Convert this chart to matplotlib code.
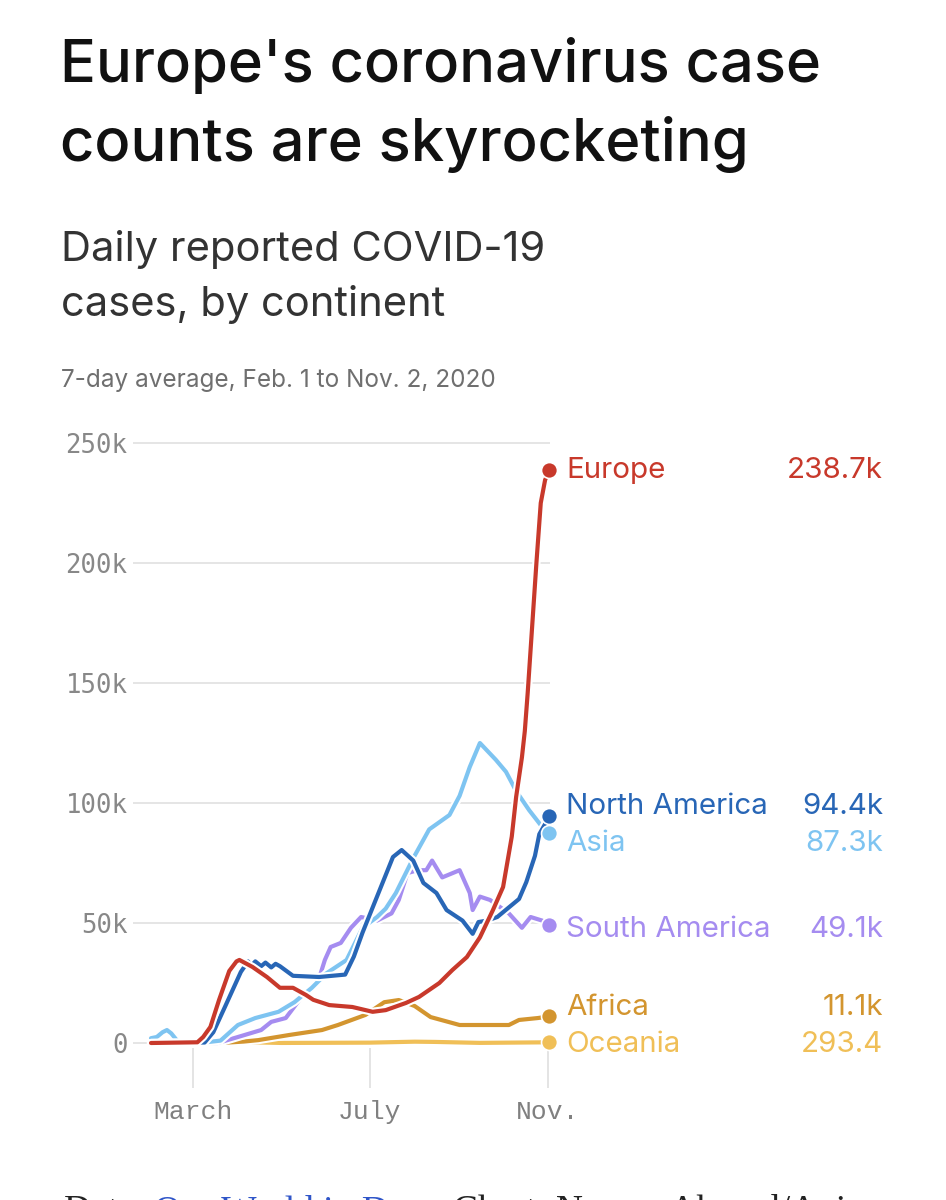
import pandas as pd
import matplotlib
matplotlib.use("Agg")
import matplotlib.pyplot as plt
import matplotlib.patheffects as pe
import matplotlib.transforms as mtransforms

# daily reported cases, 7-day average, in thousands
europe_dates = ["2020-02-01", "2020-03-04", "2020-03-08", "2020-03-13", "2020-03-19", "2020-03-26",
                "2020-03-31", "2020-04-02", "2020-04-11", "2020-04-21", "2020-04-30", "2020-05-09",
                "2020-05-18", "2020-05-23", "2020-06-03", "2020-06-19", "2020-07-03", "2020-07-12",
                "2020-07-26", "2020-08-04", "2020-08-18", "2020-08-27", "2020-09-06", "2020-09-15",
                "2020-09-24", "2020-10-01", "2020-10-07", "2020-10-10", "2020-10-14", "2020-10-16",
                "2020-10-18", "2020-10-24", "2020-10-27", "2020-10-30", "2020-11-02"]
europe_k = [0, 0.3, 2.5, 6.7, 18, 30, 34, 34.6, 31.7, 27.5, 23, 23, 20, 18, 15.8, 15, 13, 13.7,
            16.7, 19.2, 25, 30.4, 35.8, 44, 55.4, 65, 86, 102.5, 119, 130, 146, 200, 225, 234.6, 238.7]

na_dates = ["2020-02-01", "2020-03-09", "2020-03-15", "2020-03-23", "2020-04-03", "2020-04-08",
            "2020-04-10", "2020-04-13", "2020-04-17", "2020-04-20", "2020-04-24", "2020-04-27",
            "2020-04-30", "2020-05-09", "2020-05-27", "2020-06-14", "2020-06-20", "2020-06-26",
            "2020-07-08", "2020-07-17", "2020-07-23", "2020-07-31", "2020-08-07", "2020-08-16",
            "2020-08-23", "2020-09-03", "2020-09-10", "2020-09-14", "2020-09-20", "2020-09-27",
            "2020-10-08", "2020-10-12", "2020-10-17", "2020-10-23", "2020-10-26", "2020-11-02"]
na_k = [0, 0.2, 4.5, 15, 29.6, 34, 32, 34, 32, 33.5, 31.5, 33, 32, 28, 27.5, 28.5, 36, 46,
        64, 77.5, 80.4, 76, 66.7, 62.5, 55.4, 51, 45.5, 50.4, 51, 52.5, 58, 60, 67, 78, 87, 94.4]

asia_dates = ["2020-02-01", "2020-02-05", "2020-02-09", "2020-02-12", "2020-02-15", "2020-02-19",
              "2020-02-22", "2020-03-10", "2020-03-20", "2020-04-01", "2020-04-13", "2020-04-29",
              "2020-05-10", "2020-05-22", "2020-06-01", "2020-06-15", "2020-06-26", "2020-07-06",
              "2020-07-12", "2020-07-19", "2020-07-31", "2020-08-11", "2020-08-25", "2020-09-01",
              "2020-09-08", "2020-09-15", "2020-09-26", "2020-10-03", "2020-10-10", "2020-10-19",
              "2020-10-28", "2020-11-02"]
asia_k = [2.0, 2.5, 4.5, 5.4, 4.0, 1.0, 0.3, 0.3, 1.0, 7.5, 10.4, 13, 17, 23, 29, 34.6, 48, 52.5,
          56, 62.5, 77, 89, 95, 103, 115, 125, 118, 113, 105, 97, 90, 87.3]

sa_dates = ["2020-02-01", "2020-03-18", "2020-04-01", "2020-04-17", "2020-04-24", "2020-05-04",
            "2020-05-17", "2020-05-26", "2020-05-31", "2020-06-04", "2020-06-11", "2020-06-18",
            "2020-06-25", "2020-07-06", "2020-07-16", "2020-07-21", "2020-07-27", "2020-08-03",
            "2020-08-09", "2020-08-13", "2020-08-20", "2020-09-01", "2020-09-08", "2020-09-10",
            "2020-09-15", "2020-09-22", "2020-10-05", "2020-10-14", "2020-10-20", "2020-10-28",
            "2020-11-02"]
sa_k = [0, 0, 2.5, 5.4, 8.8, 10.4, 20.8, 25, 34.6, 40, 41.7, 48, 52.5, 51, 54, 59.6, 70.8, 72,
        72, 76, 69, 72, 62.5, 55.4, 61, 59.6, 54, 48, 52.5, 51, 49.1]

africa_dates = ["2020-02-01", "2020-03-20", "2020-04-05", "2020-04-15", "2020-05-06", "2020-05-29",
                "2020-06-09", "2020-06-28", "2020-07-11", "2020-07-21", "2020-08-01", "2020-08-12",
                "2020-09-01", "2020-10-05", "2020-10-12", "2020-10-25", "2020-11-02"]
africa_k = [0, 0, 0.6, 1.2, 3.3, 5.4, 7.5, 11.7, 17, 17.9, 15.4, 10.8, 7.5, 7.5, 9.6, 10.4, 11.1]

oceania_dates = ["2020-02-01", "2020-03-15", "2020-03-28", "2020-04-10", "2020-05-01",
                 "2020-07-01", "2020-08-01", "2020-08-15", "2020-09-15", "2020-11-02"]
oceania_k = [0, 0.1, 0.45, 0.3, 0.02, 0.15, 0.55, 0.45, 0.05, 0.2934]

names = ["Oceania", "Africa", "South America", "Asia", "North America", "Europe"]
last_labels = ["293.4", "11.1k", "49.1k", "87.3k", "94.4k", "238.7k"]

y_ticks = [0, 50, 100, 150, 200, 250]
y_tick_labels = ["0", "50k", "100k", "150k", "200k", "250k"]
x_ticks = ["2020-03-01", "2020-07-01", "2020-11-01"]
x_tick_labels = ["March", "July", "Nov."]

colors = {
    "Europe": "#c8392b",
    "North America": "#2866b6",
    "Asia": "#7ec4f1",
    "South America": "#a58cf0",
    "Africa": "#d3952f",
    "Oceania": "#f0bf57",
}
# baseline of the right-hand labels, in thousands on the y scale (layout only)
label_y = {
    "Europe": 235.4,
    "North America": 95.4,
    "Asia": 80.0,
    "South America": 44.2,
    "Africa": 11.7,
    "Oceania": -3.75,
}

W, H = 946, 1200
SANS = "Inter"


def fx(px):
    return px / W


def fy(py):
    return 1 - py / H


def series():
    return {
        "Oceania": (oceania_dates, oceania_k),
        "Africa": (africa_dates, africa_k),
        "South America": (sa_dates, sa_k),
        "Asia": (asia_dates, asia_k),
        "North America": (na_dates, na_k),
        "Europe": (europe_dates, europe_k),
    }


def main():
    fig = plt.figure(figsize=(W / 100, H / 100), dpi=100)
    fig.patch.set_facecolor("white")

    # headline and subtitles
    for txt, base in [("Europe's coronavirus case", 82), ("counts are skyrocketing", 161)]:
        fig.text(fx(60), fy(base), txt, fontsize=43, family=SANS, weight="medium",
                 color="#111111", va="baseline")
    for txt, base in [("Daily reported COVID-19", 261), ("cases, by continent", 316)]:
        fig.text(fx(61), fy(base), txt, fontsize=30, family=SANS, color="#333333",
                 va="baseline")
    fig.text(fx(61), fy(387), "7-day average, Feb. 1 to Nov. 2, 2020", fontsize=17.5,
             family=SANS, color="#6f6f6f", va="baseline")

    # axes: 0 at y=1043px, 250k at y=443px; Feb 1 at x=151px, Nov 1 at x=548px
    ymin, ymax = -10, 252
    px_per_k = 2.4
    bottom = 1043 + (0 - ymin) * px_per_k
    top = 1043 - ymax * px_per_k
    ax = fig.add_axes([fx(133), fy(bottom), fx(549.5) - fx(133), (bottom - top) / H])
    ax.set_ylim(ymin, ymax)
    t0 = pd.Timestamp("2020-02-01")
    px_per_day = (548 - 151) / 274
    ax.set_xlim(t0 - pd.Timedelta(days=(151 - 133) / px_per_day),
                t0 + pd.Timedelta(days=(549.5 - 151) / px_per_day))

    for s in ax.spines.values():
        s.set_visible(False)
    ax.set_yticks(y_ticks)
    ax.set_yticklabels(y_tick_labels)
    ax.yaxis.grid(True, color="#dedede", linewidth=1.1)
    ax.set_axisbelow(True)
    ax.tick_params(axis="y", length=0, pad=4, labelsize=18.5, labelcolor="#888888")
    for lab in ax.get_yticklabels():
        lab.set_family("DejaVu Sans Mono")

    xt = pd.to_datetime(x_ticks)
    ax.set_xticks(xt)
    ax.set_xticklabels(x_tick_labels)
    ax.tick_params(axis="x", length=0, pad=24, labelsize=19, labelcolor="#808080")
    for lab in ax.get_xticklabels():
        lab.set_family("Liberation Mono")
    ax.vlines(xt, -2.1, -18.7, color="#dddddd", linewidth=1.1, clip_on=False)

    label_tr = mtransforms.blended_transform_factory(fig.transFigure, ax.transData)
    data = series()
    for i, name in enumerate(names):
        dates, vals = data[name]
        d = pd.to_datetime(dates)
        c = colors[name]
        ax.plot(d, vals, color=c, linewidth=3, solid_capstyle="round", solid_joinstyle="round",
                zorder=3 + i,
                path_effects=[pe.Stroke(linewidth=6, foreground="white"), pe.Normal()])
        ax.plot([d[-1]], [vals[-1]], "o", ms=11.5, mfc=c, mec="white", mew=1.2,
                clip_on=False, zorder=20 + i)
        ax.text(fx(566), label_y[name], name, transform=label_tr, fontsize=21.3,
                family=SANS, color=c, va="baseline", ha="left")
        ax.text(fx(883), label_y[name], last_labels[i], transform=label_tr, fontsize=21.3,
                family=SANS, color=c, va="baseline", ha="right")

    # source line, cut off at the bottom of the screenshot
    t1 = fig.text(fx(64), fy(1221), "Data: ", fontsize=27, family="Liberation Serif",
                  color="#222222", va="baseline")
    t2 = ax.annotate("Our World in Data", xy=(1, 0), xycoords=t1, fontsize=27,
                     family="Liberation Serif", color="#2f55c8", va="bottom",
                     annotation_clip=False)
    ax.annotate("; Chart: Naema Ahmed/Axios", xy=(1, 0), xycoords=t2, fontsize=27,
                family="Liberation Serif", color="#222222", va="bottom",
                annotation_clip=False)

    fig.savefig("out.png", dpi=100, facecolor="white")


if __name__ == "__main__":
    main()
